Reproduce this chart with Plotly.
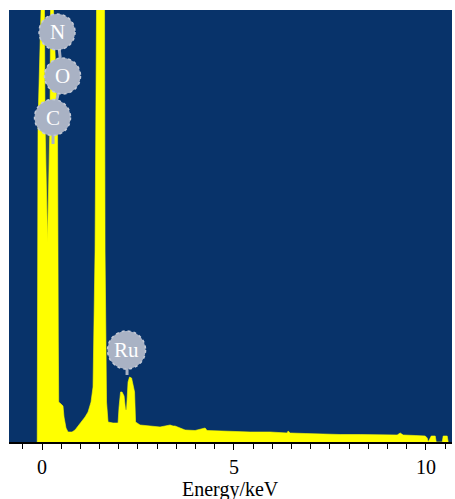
import plotly.graph_objects as go

# EDS spectrum (energy in keV, intensity in arbitrary counts)
energy_kev = [-0.125, -0.117, -0.104, -0.026, 0.013, 0.065, 0.078, 0.143, 0.208, 0.222,
              0.261, 0.300, 0.404, 0.425, 0.435, 0.495, 0.547, 0.573, 0.625, 0.678,
              0.782, 0.860, 0.990, 1.121, 1.199, 1.277, 1.329, 1.355, 1.381, 1.420,
              1.525, 1.629, 1.642, 1.681, 1.720, 1.850, 1.981, 2.007, 2.046, 2.085,
              2.137, 2.176, 2.202, 2.241, 2.280, 2.333, 2.372, 2.411, 2.437, 2.554,
              2.815, 3.075, 3.206, 3.336, 3.414, 3.466, 3.597, 3.727, 3.987, 4.248,
              4.300, 4.639, 5.030, 5.291, 5.421, 5.942, 6.385, 6.411, 6.464, 6.854,
              7.245, 7.506, 7.766, 8.288, 8.809, 9.252, 9.330, 9.408, 9.721, 9.982,
              10.034, 10.060, 10.139, 10.243, 10.269, 10.425, 10.451, 10.555, 10.581]
counts = [0, 150, 320, 432, 800, 432, 320, 200, 320, 432,
          800, 432, 320, 100, 40, 38, 36, 25, 14, 10,
          10, 12, 18, 25, 30, 40, 55, 150, 190, 432,
          900, 432, 190, 40, 20, 19, 19, 35, 50, 50,
          46, 32, 32, 60, 65, 64, 58, 50, 20, 17,
          16, 15, 16, 17, 16, 16, 14, 12, 11.5, 14,
          11.5, 11, 11, 10.5, 10, 10, 9, 11, 9, 8.5,
          8, 8, 7.5, 7.5, 7, 7, 9, 7, 6.5, 6,
          4, 0, 6, 6, 0, 0, 6, 6, 0]

# faint envelope between the two low-energy peaks
halo_kev = [0.065, 0.143, 0.222]
halo_counts = [320, 330, 320]

# element labels
labels = ["N", "O", "C", "Ru"]
label_kev = [0.391, 0.534, 0.274, 2.202]
label_counts = [410, 366, 324.5, 92]
stem_kev = [None, None, 0.287, 2.215]
stem_bottom = [None, None, 298, 67]

BG = "#08336A"
YEL = "#FFFF00"
BUBBLE = "#A9B2C4"
FONT = "Liberation Serif"

fig = go.Figure()
fig.add_trace(go.Scatter(x=halo_kev, y=halo_counts, mode="lines", fill="tozeroy",
                         line=dict(width=0, color="rgba(150,160,20,0.25)"),
                         fillcolor="rgba(150,160,20,0.25)", hoverinfo="skip"))
fig.add_trace(go.Scatter(x=energy_kev, y=counts, mode="lines", fill="tozeroy",
                         line=dict(width=0.6, color=YEL), fillcolor=YEL))

shapes = []
shapes.append(dict(type="line", xref="x", yref="y", x0=label_kev[0], y0=label_counts[0],
                   x1=label_kev[1], y1=label_counts[1], line=dict(color=BUBBLE, width=3), layer="above"))
shapes.append(dict(type="line", xref="x", yref="y", x0=label_kev[1], y0=label_counts[1],
                   x1=label_kev[2], y1=label_counts[2], line=dict(color=BUBBLE, width=3), layer="above"))
for i in range(len(labels)):
    if stem_kev[i] is not None:
        shapes.append(dict(type="line", xref="x", yref="y", x0=stem_kev[i], y0=label_counts[i],
                           x1=stem_kev[i], y1=stem_bottom[i], line=dict(color=BUBBLE, width=3),
                           layer="above"))
for i, t in enumerate(labels):
    r = 19 if t == "Ru" else 18
    shapes.append(dict(type="circle", xref="x", yref="y", xsizemode="pixel", ysizemode="pixel",
                       xanchor=label_kev[i], yanchor=label_counts[i], x0=-r, x1=r, y0=-r, y1=r,
                       fillcolor=BUBBLE, line=dict(color="#C4CAD6", width=1.5, dash="dot"),
                       layer="above"))

annotations = [dict(x=label_kev[i], y=label_counts[i], xref="x", yref="y", text=t,
                    showarrow=False, font=dict(family=FONT, size=21, color="white"))
               for i, t in enumerate(labels)]
annotations.append(dict(x=0.5, y=-0.109, xref="paper", yref="paper", text="Energy/keV",
                        showarrow=False, xanchor="center", yanchor="middle",
                        font=dict(family=FONT, size=20, color="black")))

fig.update_layout(
    width=455, height=499,
    margin=dict(l=9, r=3, t=10, b=57),
    paper_bgcolor="white", plot_bgcolor=BG,
    showlegend=False,
    shapes=shapes, annotations=annotations,
    xaxis=dict(range=[-0.86, 10.68], showgrid=False, zeroline=False,
               showline=True, linecolor="black", linewidth=1.5,
               ticks="outside", tickvals=[0, 5, 10], ticktext=["0", "5", "10"],
               ticklen=6, tickwidth=1.2, tickcolor="black",
               minor=dict(dtick=0.5, tick0=0, ticks="outside", ticklen=5, tickwidth=1.2,
                          tickcolor="black", showgrid=False),
               tickfont=dict(family=FONT, size=20, color="black")),
    yaxis=dict(range=[0, 432], visible=False, showgrid=False, zeroline=False),
)

fig.write_html("out.html")
